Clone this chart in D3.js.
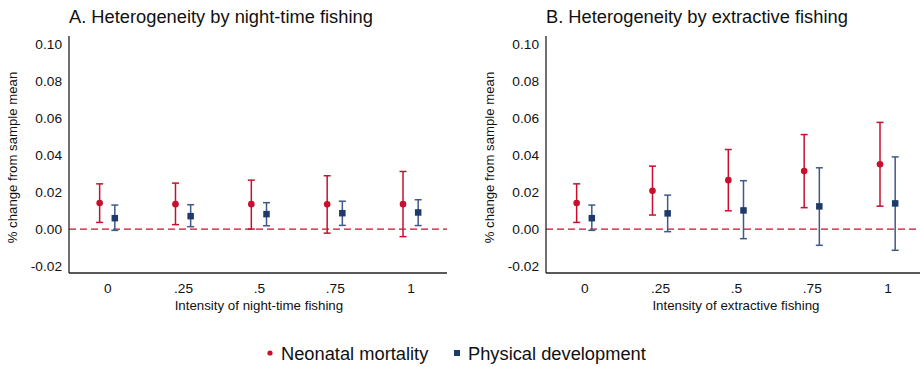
<!DOCTYPE html>
<html>
<head>
<meta charset="utf-8">
<script src="https://cdn.jsdelivr.net/npm/d3@7"></script>
<style>
  body { margin: 0; background: #fff; }
  svg { font-family: "Liberation Sans", Arial, sans-serif; }
</style>
</head>
<body>
<div id="chart"></div>
<script>
// intensity levels on x
const levels = [0, 0.25, 0.5, 0.75, 1];
const xTickLabels = ["0", ".25", ".5", ".75", "1"];
const yTicks = [-0.02, 0, 0.02, 0.04, 0.06, 0.08, 0.10];

// panel A: night-time fishing
const nightNeo = [0.0141, 0.0135, 0.0135, 0.0134, 0.0135];
const nightNeoLo = [0.0036, 0.0024, 0.0000, -0.0022, -0.0041];
const nightNeoHi = [0.0245, 0.0249, 0.0265, 0.0289, 0.0312];
const nightPhys = [0.0059, 0.0070, 0.0081, 0.0086, 0.0090];
const nightPhysLo = [-0.0007, 0.0013, 0.0018, 0.0020, 0.0019];
const nightPhysHi = [0.0130, 0.0132, 0.0143, 0.0151, 0.0159];

// panel B: extractive fishing
const extrNeo = [0.0141, 0.0207, 0.0265, 0.0314, 0.0351];
const extrNeoLo = [0.0036, 0.0076, 0.0099, 0.0116, 0.0124];
const extrNeoHi = [0.0245, 0.0341, 0.0431, 0.0512, 0.0578];
const extrPhys = [0.0059, 0.0085, 0.0101, 0.0123, 0.0139];
const extrPhysLo = [-0.0007, -0.0014, -0.0052, -0.0088, -0.0115];
const extrPhysHi = [0.0130, 0.0184, 0.0262, 0.0332, 0.0391];

const red = "#c8102e";
const navy = "#1d3a6b";
const navyBar = "#40598a";

const width = 920, height = 367;
const svg = d3.select("#chart").append("svg")
  .attr("width", width).attr("height", height);

const plotW = 378;
const plotTop = 36, plotBottom = 273;

const y = d3.scaleLinear().domain([-0.0238, 0.1046]).range([plotBottom, plotTop]);
const x = d3.scaleLinear().domain([-0.126, 1.12]).range([0, plotW]);

function makeSeries(v, lo, hi, off) {
  return levels.map((l, i) => ({ x: l + off, v: v[i], lo: lo[i], hi: hi[i] }));
}

function drawPanel(left, title, xTitle, neo, phys) {
  const g = svg.append("g").attr("transform", "translate(" + left + ",0)");

  g.append("text")
    .attr("x", 0).attr("y", 23)
    .style("font-size", "18.3px").attr("fill", "#111")
    .text(title);

  // zero reference
  g.append("line")
    .attr("x1", 0).attr("x2", plotW)
    .attr("y1", y(0)).attr("y2", y(0))
    .attr("stroke", red).attr("stroke-width", 1.2)
    .attr("stroke-dasharray", "7,4");

  const yAxis = g.append("g")
    .call(d3.axisLeft(y).tickValues(yTicks).tickSize(0).tickPadding(7)
      .tickFormat(d3.format(".2f")));
  yAxis.select(".domain").attr("d", "M0," + plotTop + "V" + plotBottom)
    .attr("stroke", "#222").attr("stroke-width", 1.3);
  yAxis.selectAll("text").style("font-size", "13.7px").attr("fill", "#111")
    .text(d => d3.format(".2f")(d).replace("−", "-"));

  const xAxis = g.append("g").attr("transform", "translate(0," + plotBottom + ")")
    .call(d3.axisBottom(x).tickValues(levels).tickSize(0).tickPadding(10)
      .tickFormat((d, i) => xTickLabels[i]));
  xAxis.select(".domain").attr("d", "M0,0H" + plotW)
    .attr("stroke", "#222").attr("stroke-width", 1.3);
  xAxis.selectAll("text").style("font-size", "13.7px").attr("fill", "#111");

  g.append("text")
    .attr("x", (x(0) + x(1)) / 2).attr("y", 310)
    .attr("text-anchor", "middle")
    .style("font-size", "13.3px").attr("fill", "#111")
    .text(xTitle);

  g.append("text")
    .attr("transform", "translate(" + (-52) + "," + 157.5 + ") rotate(-90)")
    .attr("text-anchor", "middle")
    .style("font-size", "13.2px").attr("fill", "#111")
    .text("% change from sample mean");

  function bars(data, color, cls) {
    const cap = 3.5;
    const eg = g.append("g").attr("class", cls);
    eg.selectAll("line.v").data(data).join("line").attr("class", "v")
      .attr("x1", d => x(d.x)).attr("x2", d => x(d.x))
      .attr("y1", d => y(d.lo)).attr("y2", d => y(d.hi))
      .attr("stroke", color).attr("stroke-width", 1.5);
    eg.selectAll("line.t").data(data).join("line").attr("class", "t")
      .attr("x1", d => x(d.x) - cap).attr("x2", d => x(d.x) + cap)
      .attr("y1", d => y(d.hi)).attr("y2", d => y(d.hi))
      .attr("stroke", color).attr("stroke-width", 1.5);
    eg.selectAll("line.b").data(data).join("line").attr("class", "b")
      .attr("x1", d => x(d.x) - cap).attr("x2", d => x(d.x) + cap)
      .attr("y1", d => y(d.lo)).attr("y2", d => y(d.lo))
      .attr("stroke", color).attr("stroke-width", 1.5);
  }

  bars(neo, red, "neo-err");
  bars(phys, navyBar, "phys-err");

  g.selectAll("circle.neo").data(neo).join("circle").attr("class", "neo")
    .attr("cx", d => x(d.x)).attr("cy", d => y(d.v)).attr("r", 3.3)
    .attr("fill", red);
  const s = 6.5;
  g.selectAll("rect.phys").data(phys).join("rect").attr("class", "phys")
    .attr("x", d => x(d.x) - s / 2).attr("y", d => y(d.v) - s / 2)
    .attr("width", s).attr("height", s)
    .attr("fill", navy);
}

drawPanel(69, "A. Heterogeneity by night-time fishing", "Intensity of night-time fishing",
  makeSeries(nightNeo, nightNeoLo, nightNeoHi, -0.025),
  makeSeries(nightPhys, nightPhysLo, nightPhysHi, 0.025));

drawPanel(546, "B. Heterogeneity by extractive fishing", "Intensity of extractive fishing",
  makeSeries(extrNeo, extrNeoLo, extrNeoHi, -0.025),
  makeSeries(extrPhys, extrPhysLo, extrPhysHi, 0.025));

// legend
const leg = svg.append("g").attr("transform", "translate(0,353)");
leg.append("circle").attr("cx", 270).attr("cy", 0).attr("r", 2.6).attr("fill", red);
leg.append("text").attr("x", 281).attr("y", 6.5)
  .style("font-size", "18.3px").attr("fill", "#111").text("Neonatal mortality");
leg.append("rect").attr("x", 454).attr("y", -3).attr("width", 6).attr("height", 6).attr("fill", navy);
leg.append("text").attr("x", 468).attr("y", 6.5)
  .style("font-size", "18.3px").attr("fill", "#111").text("Physical development");
</script>
</body>
</html>
